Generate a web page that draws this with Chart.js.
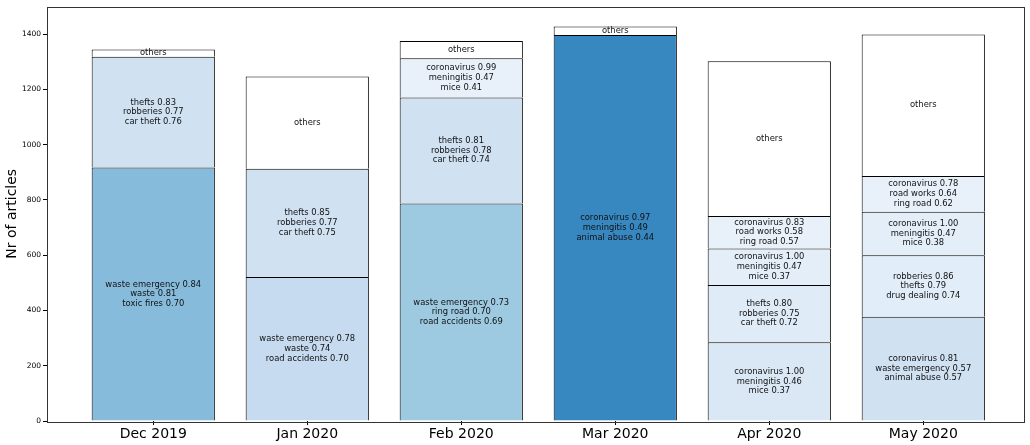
<!DOCTYPE html>
<html>
<head>
<meta charset="utf-8">
<script src="https://cdn.jsdelivr.net/npm/chart.js@4/dist/chart.umd.min.js"></script>
<style>
  html, body { margin: 0; padding: 0; background: #fff; }
  #wrap { width: 1030px; height: 445px; }
</style>
</head>
<body>
<div id="wrap"><canvas id="articlesChart" width="1030" height="445"></canvas></div>
<script>
// months on the x axis
const months = ['Dec 2019', 'Jan 2020', 'Feb 2020', 'Mar 2020', 'Apr 2020', 'May 2020'];

// number of articles per stacked cluster (bottom to top)
const level0 = [917, 521, 787, 1397, 285, 377];
const level1 = [401, 392, 384, 31, 207, 223];
const level2 = [26, 334, 142, null, 132, 157];
const level3 = [null, null, 62, null, 118, 130];
const level4 = [null, null, null, null, 560, 512];

// topic text inside each segment
const text0 = [
    'waste emergency 0.84\nwaste 0.81\ntoxic fires 0.70',
    'waste emergency 0.78\nwaste 0.74\nroad accidents 0.70',
    'waste emergency 0.73\nring road 0.70\nroad accidents 0.69',
    'coronavirus 0.97\nmeningitis 0.49\nanimal abuse 0.44',
    'coronavirus 1.00\nmeningitis 0.46\nmice 0.37',
    'coronavirus 0.81\nwaste emergency 0.57\nanimal abuse 0.57'
];
const text1 = [
    'thefts 0.83\nrobberies 0.77\ncar theft 0.76',
    'thefts 0.85\nrobberies 0.77\ncar theft 0.75',
    'thefts 0.81\nrobberies 0.78\ncar theft 0.74',
    'others',
    'thefts 0.80\nrobberies 0.75\ncar theft 0.72',
    'robberies 0.86\nthefts 0.79\ndrug dealing 0.74'
];
const text2 = [
    'others',
    'others',
    'coronavirus 0.99\nmeningitis 0.47\nmice 0.41',
    '',
    'coronavirus 1.00\nmeningitis 0.47\nmice 0.37',
    'coronavirus 1.00\nmeningitis 0.47\nmice 0.38'
];
const text3 = ['', '', 'others', '', 'coronavirus 0.83\nroad works 0.58\nring road 0.57', 'coronavirus 0.78\nroad works 0.64\nring road 0.62'];
const text4 = ['', '', '', '', 'others', 'others'];

// fill colours per segment
const colors0 = ['#86bbdb', '#c6dbef', '#9ecae1', '#3787c0', '#dae8f5', '#d0e1f2'];
const colors1 = ['#d0e1f2', '#d0e1f2', '#d0e1f2', '#ffffff', '#dfebf7', '#e1edf8'];
const colors2 = ['#ffffff', '#ffffff', '#e8f1fa', '#ffffff', '#e3eef8', '#e4eef9'];
const colors3 = ['#ffffff', '#ffffff', '#ffffff', '#ffffff', '#e8f1fa', '#e8f1fa'];
const colors4 = ['#ffffff', '#ffffff', '#ffffff', '#ffffff', '#ffffff', '#ffffff'];

const levels = [level0, level1, level2, level3, level4];
const texts = [text0, text1, text2, text3, text4];
const colors = [colors0, colors1, colors2, colors3, colors4];

const FONT = '"DejaVu Sans", sans-serif';

const datasets = levels.map((vals, i) => ({
    label: 'level ' + i,
    data: vals.map((v, j) => ({ x: j, y: v })),
    backgroundColor: colors[i],
    borderColor: '#000',
    borderWidth: 1,
    barPercentage: 0.8,
    categoryPercentage: 1.0,
    topics: texts[i]
}));

// writes the topic lines in the middle of each segment
const segmentText = {
    id: 'segmentText',
    afterDatasetsDraw(chart) {
        const ctx = chart.ctx;
        ctx.save();
        ctx.font = '8.4px ' + FONT;
        ctx.fillStyle = '#111';
        ctx.textAlign = 'center';
        ctx.textBaseline = 'middle';
        chart.data.datasets.forEach((ds, i) => {
            const meta = chart.getDatasetMeta(i);
            meta.data.forEach((bar, j) => {
                const txt = ds.topics[j];
                if (!txt || ds.data[j].y == null) return;
                const lines = txt.split('\n');
                const cy = (bar.y + bar.base) / 2;
                const lh = 9.6;
                lines.forEach((ln, k) => {
                    ctx.fillText(ln, bar.x, cy + (k - (lines.length - 1) / 2) * lh);
                });
            });
        });
        ctx.restore();
    }
};

// box round the plot area
const frame = {
    id: 'frame',
    afterDraw(chart) {
        const a = chart.chartArea;
        const ctx = chart.ctx;
        ctx.save();
        ctx.strokeStyle = '#333';
        ctx.lineWidth = 1;
        ctx.strokeRect(Math.round(a.left) + 0.5, Math.round(a.top) + 0.5, Math.round(a.right - a.left), Math.round(a.bottom - a.top));
        ctx.restore();
    }
};

new Chart(document.getElementById('articlesChart').getContext('2d'), {
    type: 'bar',
    data: { datasets: datasets },
    plugins: [segmentText, frame],
    options: {
        responsive: false,
        animation: false,
        layout: { padding: { top: 5, right: 6, left: 0, bottom: 0 } },
        plugins: {
            legend: { display: false },
            tooltip: { enabled: false }
        },
        scales: {
            x: {
                type: 'linear',
                stacked: true,
                offset: false,
                min: -0.69,
                max: 5.654,
                afterBuildTicks(scale) {
                    scale.ticks = months.map((m, i) => ({ value: i }));
                },
                afterFit(scale) { scale.height = 24; },
                ticks: {
                    color: '#000',
                    font: { family: FONT, size: 14 },
                    padding: 1,
                    maxRotation: 0,
                    autoSkip: false,
                    callback: (v) => months[v]
                },
                grid: { display: true, offset: false, drawOnChartArea: false, tickLength: 4, color: '#000' },
                border: { display: false }
            },
            y: {
                stacked: true,
                min: 0,
                max: 1500,
                afterFit(scale) { scale.width = 47; },
                ticks: {
                    stepSize: 200,
                    includeBounds: false,
                    color: '#000',
                    font: { family: FONT, size: 7.5 },
                    padding: 2,
                    callback: (v) => String(v)
                },
                grid: { display: true, drawOnChartArea: false, tickLength: 4, color: '#000' },
                border: { display: false },
                title: {
                    display: true,
                    text: 'Nr of articles',
                    color: '#000',
                    font: { family: FONT, size: 14 },
                    padding: { top: 4, bottom: 0 }
                }
            }
        }
    }
});
</script>
</body>
</html>
